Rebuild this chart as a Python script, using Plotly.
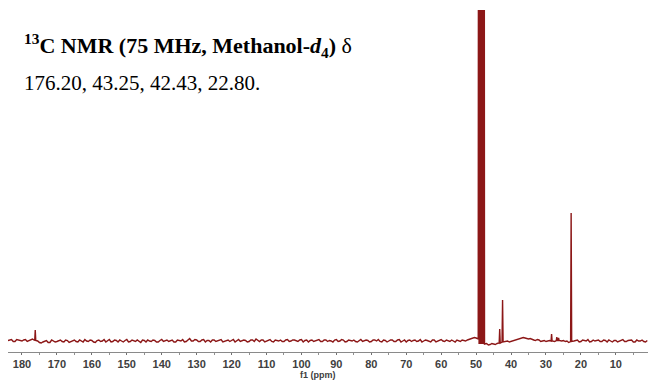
import plotly.graph_objects as go

# ---- data ----
# baseline (noise) samples at whole ppm, 184 -> 1 (arbitrary intensity units)
base_ppm = list(range(184, 0, -1))
base_val = [
    0.5, 1.5, -0.5, 1.0, 0.0, 1.5, 0.5, 2.0, -1.0, -1.5,
    -1.0, 0.5, -1.5, 0.0, -0.5, 1.0, -1.0, 0.5, -0.5, 1.0,
    -1.0, 0.0, 1.5, -0.5, 0.5, -1.5, 1.0, 0.0, -1.0, 1.5,
    -0.5, 0.5, 1.0, -1.0, 1.5, -0.5, 0.0, 1.0, -1.5, 0.5,
    1.0, -0.5, 0.5, -1.0, 1.5, 0.0, -0.5, 1.0, -1.0, 0.5,
    1.5, -0.5, 2.5, 0.0, 1.0, -0.5, 1.5, 0.5, -1.0, 1.0,
    0.0, 1.5, -0.5, 1.0, 0.5, -1.0, 1.5, 0.0, 0.5, -0.5,
    1.0, 2.0, -0.5, 1.0, 0.0, 1.5, -1.0, 0.5, 1.0, -0.5,
    1.5, 0.0, 1.0, -0.5, 1.5, 0.5, -1.0, 1.0, 0.0, 1.5,
    -0.5, 1.0, 0.5, -1.0, 1.5, 0.0, 1.0, -0.5, 0.5, 1.0,
    -1.0, 1.5, 0.0, 0.5, -0.5, 1.0, 1.5, -1.0, 0.5, 0.0,
    1.0, -0.5, 1.5, 0.0, -1.0, 1.0, 0.5, -0.5, 1.5, 0.0,
    0.5, -1.0, 1.0, 0.0, 1.5, -0.5, 0.5, 1.0, -1.0, 0.5,
    1.0, 0.0, 1.5, 2.5, 3.0, 0.0, 0.0, -2.5, -3.5, -3.0,
    -2.5, -2.0, 0.0, 0.0, -0.5, 0.5, 1.5, 2.5, 3.0, 2.0,
    1.5, 0.5, 1.0, 0.0, -0.5, 0.5, 0.0, 2.0, 1.0, 0.5,
    0.0, -1.0, 0.0, 1.0, -0.5, 0.5, 1.5, -0.5, 0.0, 1.0,
    -0.5, 0.5, 1.0, -1.0, 0.5, 0.0, 1.5, -0.5, 0.5, -1.0,
    1.0, 0.0, -0.5, 0.5,
]
# baseline (noise) samples at half ppm, 183.5 -> 1.5
half_ppm = [183.5 - i for i in range(183)]
half_val = [
    1.0, -0.5, 1.5, 0.5, 1.0, -0.5, 1.5, 1.0, 0.0, -2.0,
    0.0, -1.5, 1.0, -1.0, 0.5, -0.5, 1.0, -1.5, 0.5, -0.5,
    1.0, -1.0, 0.0, 1.0, -1.0, 0.5, -0.5, 1.5, 0.0, -1.0,
    1.0, -1.0, 0.0, 0.5, -1.0, 1.0, -0.5, 0.0, 1.0, -1.0,
    0.0, 1.0, -1.0, 0.5, -0.5, 1.0, 0.0, -1.0, 1.0, 0.0,
    -1.0, 1.0, 0.0, 1.5, -0.5, 1.0, -1.0, 0.5, 1.0, -0.5,
    1.0, -1.0, 0.5, -0.5, 1.5, 0.0, -0.5, 1.0, -1.0, 1.0,
    -0.5, 0.5, 1.0, -1.0, 1.0, -0.5, 1.0, 0.0, -0.5, 1.0,
    -0.5, 1.0, 0.0, 1.0, -1.0, 1.0, 0.5, -0.5, 1.0, -0.5,
    1.0, -0.5, 0.0, 1.0, -0.5, 1.5, -1.0, 1.0, 0.0, -0.5,
    0.5, -0.5, 1.0, -1.0, 1.0, 0.0, -0.5, 1.0, -1.0, 1.0,
    -0.5, 1.0, -1.0, 1.0, 0.5, -0.5, 1.0, 0.0, -1.0, 1.0,
    -0.5, 1.0, -1.0, 1.0, 0.0, 1.0, -0.5, 0.0, 1.0, -0.5,
    0.5, 1.0, 2.0, 3.5, 0.0, 0.0, 0.0, -4.0, -2.5, -3.5,
    -2.0, 0.0, 0.0, -1.0, 0.0, 1.0, 2.0, 3.5, 2.5, 2.5,
    1.0, 1.5, -0.5, 0.5, 0.0, 1.0, -0.5, 1.5, 0.0, -0.5,
    -1.5, 0.0, 0.5, -1.0, 1.0, 0.0, -1.0, 1.0, 0.5, -0.5,
    1.0, -1.0, 0.0, 0.5, -1.0, 1.0, -0.5, 0.5, 1.0, -1.0,
    0.0, 1.0, -1.0,
]

# peaks: apex position (ppm), apex intensity, foot intensity
peak_ppm = [176.2, 49.25, 49.0, 48.75, 48.5, 48.25, 48.0, 47.75,
            43.25, 42.43, 28.4, 26.9, 26.4, 22.8]
peak_top = [11, 1000, 1000, 1000, 1000, 1000, 1000, 1000,
            12, 41, 7, 4, 3, 128]
peak_foot = [0.5, 2.0, -3.0, -3.0, -3.0, -3.0, -3.0, -3.0,
             -2.0, -1.0, 0.0, 0.5, 0.5, -0.5]
peak_hw = 0.15  # half width in ppm

tick_vals = [180, 170, 160, 150, 140, 130, 120, 110, 100, 90, 80, 70, 60, 50, 40, 30, 20, 10]

# ---- build spectrum trace ----
pts = []
for p, v in list(zip(base_ppm, base_val)) + list(zip(half_ppm, half_val)):
    if any(abs(p - q) < 0.45 for q in peak_ppm) or 47.6 < p < 49.4:
        continue
    pts.append((p, v))
for q, h, f in zip(peak_ppm, peak_top, peak_foot):
    pts.append((q + peak_hw, f))
    pts.append((q, h))
    pts.append((q - peak_hw, f))
pts.sort(key=lambda t: -t[0])
xs = [t[0] for t in pts]
ys = [t[1] for t in pts]

color = "#8c1717"
fig = go.Figure()
fig.add_trace(go.Scatter(x=xs, y=ys, mode="lines",
                         line=dict(color=color, width=1.4),
                         hoverinfo="skip", showlegend=False))

fig.update_layout(
    width=648, height=380,
    margin=dict(l=8, r=0, t=10, b=28),
    paper_bgcolor="white", plot_bgcolor="white",
    font=dict(family="Liberation Sans, Arial, sans-serif"),
    xaxis=dict(
        range=[184, 0.8],
        tickvals=tick_vals,
        ticktext=["<b>%d</b>" % t for t in tick_vals],
        tickfont=dict(size=11, color="#404040", family="Liberation Sans, Arial"),
        ticks="outside", ticklen=2, tickcolor="#707070", tickwidth=1,
        minor=dict(dtick=5, tick0=0, ticks="outside", ticklen=2, tickcolor="#909090"),
        showline=True, linecolor="#8a8a8a", linewidth=1,
        showgrid=False, zeroline=False,
    ),
    yaxis=dict(range=[-11, 331], visible=False, showgrid=False, zeroline=False),
)

fig.add_annotation(
    xref="paper", yref="paper", x=0.485, y=(352 - 374.5) / 342,
    xanchor="center", yanchor="middle", showarrow=False,
    text="<b>f1 (ppm)</b>",
    font=dict(family="Liberation Sans, Arial", size=9, color="#404040"),
)
fig.add_annotation(
    xref="paper", yref="paper", x=(22 - 8) / 640, y=(352 - 45) / 342,
    xanchor="left", yanchor="middle", showarrow=False,
    text="<b><sup>13</sup>C NMR (75 MHz, Methanol-<i>d</i><sub>4</sub>)</b> δ",
    font=dict(family="Liberation Serif, Times New Roman, serif", size=22, color="black"),
)
fig.add_annotation(
    xref="paper", yref="paper", x=(22 - 8) / 640, y=(352 - 83) / 342,
    xanchor="left", yanchor="middle", showarrow=False,
    text="176.20, 43.25, 42.43, 22.80.",
    font=dict(family="Liberation Serif, Times New Roman, serif", size=21, color="black"),
)

fig.write_html("out.html")
